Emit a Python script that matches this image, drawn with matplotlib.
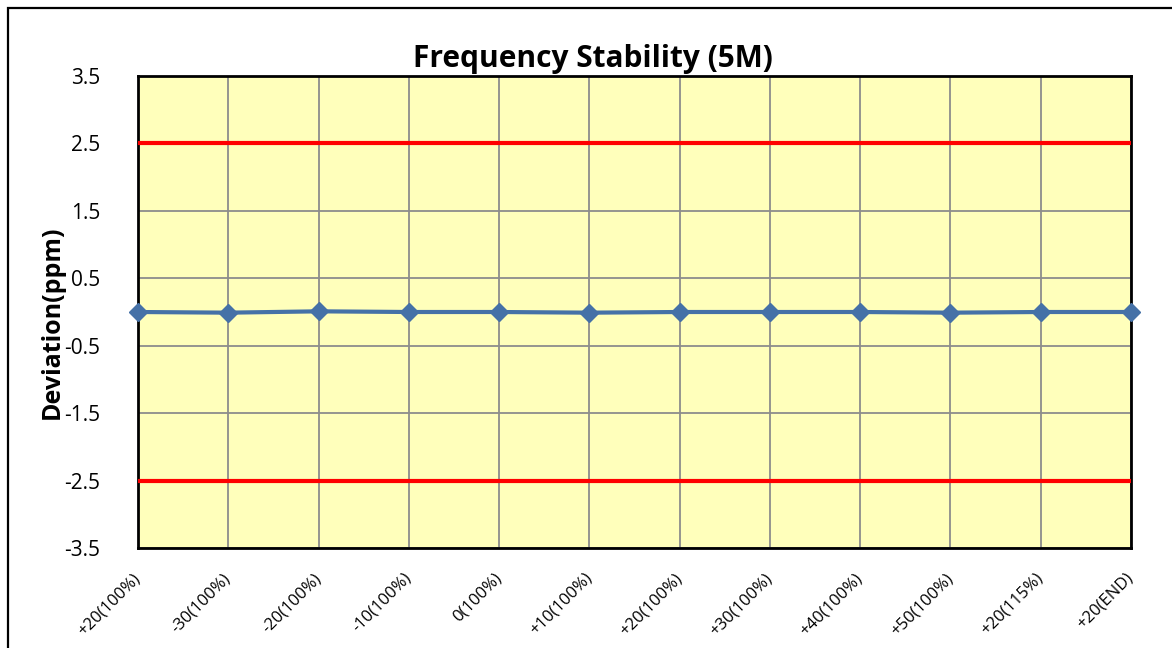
import matplotlib
matplotlib.use("Agg")
import matplotlib.pyplot as plt
from matplotlib.patches import Rectangle
from matplotlib.transforms import ScaledTranslation

plt.rcParams['font.family'] = ['Open Sans', 'DejaVu Sans']

categories = ['+20(100%)', '-30(100%)', '-20(100%)', '-10(100%)', '0(100%)', '+10(100%)',
              '+20(100%)', '+30(100%)', '+40(100%)', '+50(100%)', '+20(115%)', '+20(END)']
deviation = [0.00, -0.01, 0.01, 0.00, 0.00, -0.01, 0.00, 0.00, 0.00, -0.01, 0.00, 0.00]
upper_limit = [2.5] * len(categories)
lower_limit = [-2.5] * len(categories)
yticks = [3.5, 2.5, 1.5, 0.5, -0.5, -1.5, -2.5, -3.5]
title = 'Frequency Stability (5M)'
ylabel = 'Deviation(ppm)'

W, H = 1172, 648
fig = plt.figure(figsize=(W / 100, H / 100), dpi=100)
fig.patch.set_facecolor('white')
# outer chart border (left and top visible)
fig.add_artist(Rectangle((8 / W, -0.1), 1.2, 1 - 8 / H + 0.1, transform=fig.transFigure,
                         fill=False, edgecolor='black', linewidth=1.6))

ax = fig.add_axes([138 / W, 1 - 548 / H, (1131 - 138) / W, (548 - 76) / H])
ax.set_facecolor('#FFFFBB')
x = list(range(len(categories)))

ax.plot(x, upper_limit, color='#FF0000', linewidth=3.0, zorder=3)
ax.plot(x, lower_limit, color='#FF0000', linewidth=3.0, zorder=3)
ax.plot(x, deviation, color='#4571A7', linewidth=3.0, marker='D', markersize=9,
        markeredgecolor='#4571A7', zorder=4, clip_on=False)

ax.set_xlim(0, len(categories) - 1)
ax.set_ylim(-3.5, 3.5)
ax.set_xticks(x)
ax.set_xticklabels(categories, rotation=45, ha='right', va='center', rotation_mode='anchor',
                   fontsize=12)
offset = ScaledTranslation(-4 / 100, 0, fig.dpi_scale_trans)
for lbl in ax.get_xticklabels():
    lbl.set_transform(lbl.get_transform() + offset)
ax.set_yticks(yticks)
ax.set_yticklabels([str(v) for v in yticks], fontsize=15)
ax.tick_params(axis='y', length=0, pad=27)
ax.tick_params(axis='x', length=0, pad=20)
ax.grid(True, color='#8C8C8C', linewidth=1.3)
ax.set_axisbelow(True)
for s in ax.spines.values():
    s.set_linewidth(2.0)
    s.set_color('black')

fig.text(593 / W, 1 - 59 / H, title, ha='center', va='center',
         fontsize=21.5, fontweight='bold')
fig.text(52 / W, 1 - 322 / H, ylabel, ha='center', va='center', rotation=90,
         fontsize=18, fontweight='bold')

fig.savefig('out.png', dpi=100)
